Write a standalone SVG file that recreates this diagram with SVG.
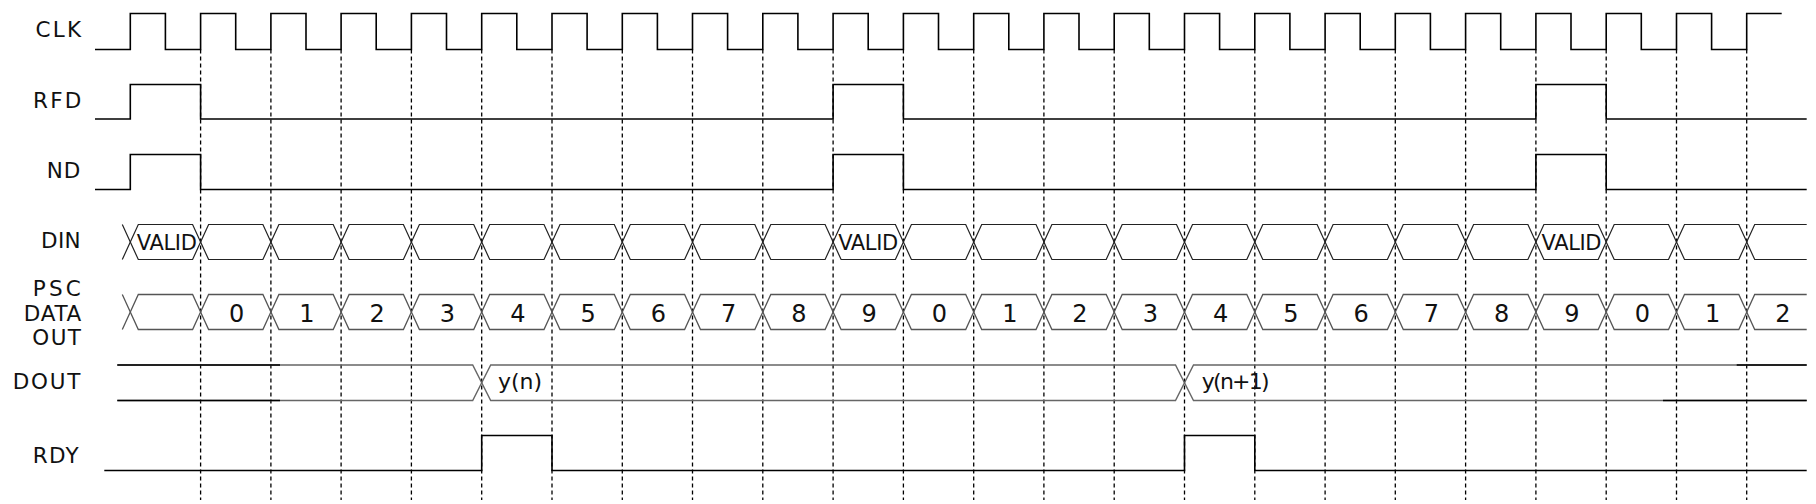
<svg xmlns="http://www.w3.org/2000/svg" width="1816" height="504" viewBox="0 0 1816 504">
<style>
.lbl{font-family:"DejaVu Sans",sans-serif;font-size:21.5px;fill:#111;text-anchor:end}
.val{font-family:"DejaVu Sans",sans-serif;font-size:21px;fill:#111;text-anchor:middle}
.dig{font-family:"DejaVu Sans",sans-serif;font-size:24px;fill:#111;text-anchor:middle}
.out{font-family:"DejaVu Sans",sans-serif;font-size:22px;fill:#111}
.wave{fill:none;stroke:#000;stroke-width:1.6}
.bus{fill:none;stroke:#222;stroke-width:1.2}
.bus2{fill:none;stroke:#555;stroke-width:1.3}
.busg{fill:none;stroke:#666;stroke-width:1.4}
.busk{fill:none;stroke:#000;stroke-width:1.4}
.grid{stroke:#000;stroke-width:1.3;stroke-dasharray:4 3}
</style>
<defs>
<path id="hex" d="M0 0 L8 -17.5 H62.3 L70.3 0 L62.3 17.5 H8 Z"/>
</defs>
<rect width="1816" height="504" fill="#fff"/>

<g id="labels">
<text class="lbl" x="83.5" y="36.7" letter-spacing="2.3">CLK</text>
<text class="lbl" x="83.5" y="108.3" letter-spacing="2.2">RFD</text>
<text class="lbl" x="81" y="178.3" letter-spacing="0.8">ND</text>
<text class="lbl" x="81" y="248.3" letter-spacing="0.3">DIN</text>
<text class="lbl" x="84" y="296" letter-spacing="3.2">PSC</text>
<text class="lbl" x="82" y="320.5" letter-spacing="0.7">DATA</text>
<text class="lbl" x="82.5" y="345" letter-spacing="1.5">OUT</text>
<text class="lbl" x="82" y="389" letter-spacing="1.7">DOUT</text>
<text class="lbl" x="80" y="462.7" letter-spacing="1.3">RDY</text>
</g>

<g id="connectors">
<line class="grid" x1="200.6" y1="49.5" x2="200.6" y2="500"/>
<line class="grid" x1="270.9" y1="49.5" x2="270.9" y2="500"/>
<line class="grid" x1="341.1" y1="49.5" x2="341.1" y2="500"/>
<line class="grid" x1="411.4" y1="49.5" x2="411.4" y2="500"/>
<line class="grid" x1="481.7" y1="49.5" x2="481.7" y2="500"/>
<line class="grid" x1="552" y1="49.5" x2="552" y2="500"/>
<line class="grid" x1="622.3" y1="49.5" x2="622.3" y2="500"/>
<line class="grid" x1="692.5" y1="49.5" x2="692.5" y2="500"/>
<line class="grid" x1="762.8" y1="49.5" x2="762.8" y2="500"/>
<line class="grid" x1="833.1" y1="49.5" x2="833.1" y2="500"/>
<line class="grid" x1="903.4" y1="49.5" x2="903.4" y2="500"/>
<line class="grid" x1="973.7" y1="49.5" x2="973.7" y2="500"/>
<line class="grid" x1="1043.9" y1="49.5" x2="1043.9" y2="500"/>
<line class="grid" x1="1114.2" y1="49.5" x2="1114.2" y2="500"/>
<line class="grid" x1="1184.5" y1="49.5" x2="1184.5" y2="500"/>
<line class="grid" x1="1254.8" y1="49.5" x2="1254.8" y2="500"/>
<line class="grid" x1="1325.1" y1="49.5" x2="1325.1" y2="500"/>
<line class="grid" x1="1395.3" y1="49.5" x2="1395.3" y2="500"/>
<line class="grid" x1="1465.6" y1="49.5" x2="1465.6" y2="500"/>
<line class="grid" x1="1535.9" y1="49.5" x2="1535.9" y2="500"/>
<line class="grid" x1="1606.2" y1="49.5" x2="1606.2" y2="500"/>
<line class="grid" x1="1676.5" y1="49.5" x2="1676.5" y2="500"/>
<line class="grid" x1="1746.7" y1="49.5" x2="1746.7" y2="500"/>
</g>

<g id="clk">
<path class="wave" d="M95 49.5 H130.3 V13.5 H165.4 V49.5 H200.6 V13.5 H235.7 V49.5 H270.9 V13.5 H306 V49.5 H341.1 V13.5 H376.2 V49.5 H411.4 V13.5 H446.5 V49.5 H481.7 V13.5 H516.8 V49.5 H552 V13.5 H587.1 V49.5 H622.3 V13.5 H657.4 V49.5 H692.5 V13.5 H727.6 V49.5 H762.8 V13.5 H797.9 V49.5 H833.1 V13.5 H868.2 V49.5 H903.4 V13.5 H938.5 V49.5 H973.7 V13.5 H1008.8 V49.5 H1043.9 V13.5 H1079 V49.5 H1114.2 V13.5 H1149.3 V49.5 H1184.5 V13.5 H1219.6 V49.5 H1254.8 V13.5 H1289.9 V49.5 H1325.1 V13.5 H1360.2 V49.5 H1395.3 V13.5 H1430.4 V49.5 H1465.6 V13.5 H1500.7 V49.5 H1535.9 V13.5 H1571 V49.5 H1606.2 V13.5 H1641.3 V49.5 H1676.5 V13.5 H1711.6 V49.5 H1746.7 V13.5 H1781.7"/>
</g>

<g id="rfd">
<path class="wave" d="M95 119 H130.3 V84.5 H200.6 V119 H833.1 V84.5 H903.4 V119 H1535.9 V84.5 H1606.2 V119 H1806.7"/>
</g>

<g id="nd">
<path class="wave" d="M95 189.5 H130.3 V154.5 H200.6 V189.5 H833.1 V154.5 H903.4 V189.5 H1535.9 V154.5 H1606.2 V189.5 H1806.7"/>
</g>

<g id="din">
<path class="bus" d="M122.3 224.5 L130.3 242 L122.3 259.5"/>
<use href="#hex" class="bus" transform="translate(130.3 242)"/>
<use href="#hex" class="bus" transform="translate(200.6 242)"/>
<use href="#hex" class="bus" transform="translate(270.9 242)"/>
<use href="#hex" class="bus" transform="translate(341.1 242)"/>
<use href="#hex" class="bus" transform="translate(411.4 242)"/>
<use href="#hex" class="bus" transform="translate(481.7 242)"/>
<use href="#hex" class="bus" transform="translate(552 242)"/>
<use href="#hex" class="bus" transform="translate(622.3 242)"/>
<use href="#hex" class="bus" transform="translate(692.5 242)"/>
<use href="#hex" class="bus" transform="translate(762.8 242)"/>
<use href="#hex" class="bus" transform="translate(833.1 242)"/>
<use href="#hex" class="bus" transform="translate(903.4 242)"/>
<use href="#hex" class="bus" transform="translate(973.7 242)"/>
<use href="#hex" class="bus" transform="translate(1043.9 242)"/>
<use href="#hex" class="bus" transform="translate(1114.2 242)"/>
<use href="#hex" class="bus" transform="translate(1184.5 242)"/>
<use href="#hex" class="bus" transform="translate(1254.8 242)"/>
<use href="#hex" class="bus" transform="translate(1325.1 242)"/>
<use href="#hex" class="bus" transform="translate(1395.3 242)"/>
<use href="#hex" class="bus" transform="translate(1465.6 242)"/>
<use href="#hex" class="bus" transform="translate(1535.9 242)"/>
<use href="#hex" class="bus" transform="translate(1606.2 242)"/>
<use href="#hex" class="bus" transform="translate(1676.5 242)"/>
<path class="bus" d="M1806.7 224.5 H1754.7 L1746.7 242 L1754.7 259.5 H1806.7"/>
<text class="val" x="166.8" y="249.5" textLength="60">VALID</text>
<text class="val" x="868.2" y="249.5" textLength="60">VALID</text>
<text class="val" x="1571.5" y="249.5" textLength="60">VALID</text>
</g>

<g id="psc">
<path class="bus2" d="M122.3 294.5 L130.3 312 L122.3 329.5"/>
<use href="#hex" class="bus2" transform="translate(130.3 312)"/>
<use href="#hex" class="bus2" transform="translate(200.6 312)"/>
<use href="#hex" class="bus2" transform="translate(270.9 312)"/>
<use href="#hex" class="bus2" transform="translate(341.1 312)"/>
<use href="#hex" class="bus2" transform="translate(411.4 312)"/>
<use href="#hex" class="bus2" transform="translate(481.7 312)"/>
<use href="#hex" class="bus2" transform="translate(552 312)"/>
<use href="#hex" class="bus2" transform="translate(622.3 312)"/>
<use href="#hex" class="bus2" transform="translate(692.5 312)"/>
<use href="#hex" class="bus2" transform="translate(762.8 312)"/>
<use href="#hex" class="bus2" transform="translate(833.1 312)"/>
<use href="#hex" class="bus2" transform="translate(903.4 312)"/>
<use href="#hex" class="bus2" transform="translate(973.7 312)"/>
<use href="#hex" class="bus2" transform="translate(1043.9 312)"/>
<use href="#hex" class="bus2" transform="translate(1114.2 312)"/>
<use href="#hex" class="bus2" transform="translate(1184.5 312)"/>
<use href="#hex" class="bus2" transform="translate(1254.8 312)"/>
<use href="#hex" class="bus2" transform="translate(1325.1 312)"/>
<use href="#hex" class="bus2" transform="translate(1395.3 312)"/>
<use href="#hex" class="bus2" transform="translate(1465.6 312)"/>
<use href="#hex" class="bus2" transform="translate(1535.9 312)"/>
<use href="#hex" class="bus2" transform="translate(1606.2 312)"/>
<use href="#hex" class="bus2" transform="translate(1676.5 312)"/>
<path class="bus2" d="M1806.7 294.5 H1754.7 L1746.7 312 L1754.7 329.5 H1806.7"/>
<text class="dig" x="236.7" y="321.8">0</text>
<text class="dig" x="307" y="321.8">1</text>
<text class="dig" x="377.2" y="321.8">2</text>
<text class="dig" x="447.5" y="321.8">3</text>
<text class="dig" x="517.8" y="321.8">4</text>
<text class="dig" x="588.1" y="321.8">5</text>
<text class="dig" x="658.4" y="321.8">6</text>
<text class="dig" x="728.6" y="321.8">7</text>
<text class="dig" x="798.9" y="321.8">8</text>
<text class="dig" x="869.2" y="321.8">9</text>
<text class="dig" x="939.5" y="321.8">0</text>
<text class="dig" x="1009.8" y="321.8">1</text>
<text class="dig" x="1080" y="321.8">2</text>
<text class="dig" x="1150.3" y="321.8">3</text>
<text class="dig" x="1220.6" y="321.8">4</text>
<text class="dig" x="1290.9" y="321.8">5</text>
<text class="dig" x="1361.2" y="321.8">6</text>
<text class="dig" x="1431.4" y="321.8">7</text>
<text class="dig" x="1501.7" y="321.8">8</text>
<text class="dig" x="1572" y="321.8">9</text>
<text class="dig" x="1642.3" y="321.8">0</text>
<text class="dig" x="1712.6" y="321.8">1</text>
<text class="dig" x="1782.8" y="321.8">2</text>
</g>

<g id="dout">
<path class="busg" d="M117.3 365 H472.7 L490.7 400.5 H1175.5 L1193.5 365 H1806.7"/>
<path class="busg" d="M117.3 400.5 H472.7 L490.7 365 H1175.5 L1193.5 400.5 H1806.7"/>
<path class="busk" d="M117.3 365 H280 M117.3 400.5 H280 M1736.7 365 H1806.7 M1663 400.5 H1806.7"/>
<text class="out" x="498" y="389">y(n)</text>
<text class="out" x="1201.7" y="389" textLength="68">y(n+1)</text>
</g>

<g id="rdy">
<path class="wave" d="M104.3 470.5 H481.7 V435.5 H552 V470.5 H1184.5 V435.5 H1254.8 V470.5 H1806.7"/>
</g>
</svg>
